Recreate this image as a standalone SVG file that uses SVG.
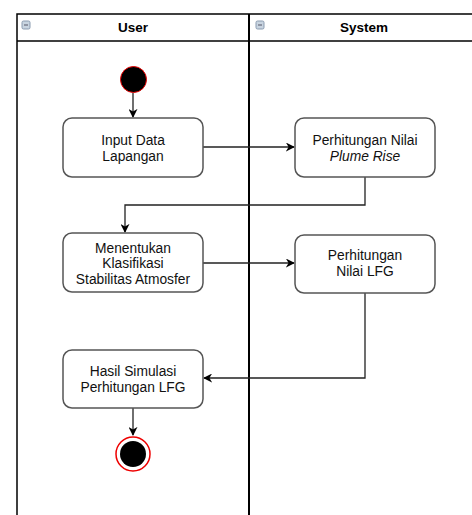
<svg xmlns="http://www.w3.org/2000/svg" width="472" height="515" viewBox="0 0 472 515">
<defs>
<style>
.lane{fill:none;stroke:#000;stroke-width:1.5}
.hdr{font-family:"Liberation Sans",Arial,sans-serif;font-weight:bold;font-size:13.5px;fill:#000;text-anchor:middle}
.box{fill:#fff;stroke:#555;stroke-width:1.5}
.lbl{font-family:"Liberation Sans",Arial,sans-serif;font-size:13.8px;fill:#111;text-anchor:middle}
.conn{fill:none;stroke:#222;stroke-width:1.3}
.icon{fill:#c8d4e0;stroke:#8a9bb0;stroke-width:1}
</style>
<marker id="arr" viewBox="0 0 10 10" refX="9" refY="5" markerWidth="9" markerHeight="9" markerUnits="userSpaceOnUse" orient="auto">
<path d="M0,0 L10,5 L0,10 L3,5 Z" fill="#000"/>
</marker>
</defs>
<g id="swimlanes">
<rect class="lane" x="17" y="14" width="470" height="520"/>
<line class="lane" x1="17" y1="41" x2="472" y2="41"/>
<line class="lane" x1="249" y1="14" x2="249" y2="515" style="stroke-width:2"/>
<rect class="icon" x="22" y="21" width="8" height="8" rx="1.5"/>
<line x1="24" y1="25" x2="28" y2="25" stroke="#556" stroke-width="1"/>
<rect class="icon" x="256" y="21" width="8" height="8" rx="1.5"/>
<line x1="258" y1="25" x2="262" y2="25" stroke="#556" stroke-width="1"/>
<text class="hdr" x="133" y="32">User</text>
<text class="hdr" x="364" y="32">System</text>
</g>
<g id="connectors">
<line class="conn" x1="133" y1="93" x2="133" y2="117" marker-end="url(#arr)"/>
<line class="conn" x1="203" y1="147" x2="294" y2="147" marker-end="url(#arr)"/>
<polyline class="conn" points="365,177 365,205 125,205 125,232" marker-end="url(#arr)"/>
<line class="conn" x1="203" y1="263" x2="294" y2="263" marker-end="url(#arr)"/>
<polyline class="conn" points="365,293 365,378 204,378" marker-end="url(#arr)"/>
<line class="conn" x1="133" y1="408" x2="133" y2="435" marker-end="url(#arr)"/>
</g>
<g id="start">
<circle cx="133.5" cy="79.5" r="13" fill="#000" stroke="#e00" stroke-width="1"/>
</g>
<g id="input-data">
<rect class="box" x="63" y="118" width="140" height="59" rx="9"/>
<text class="lbl" x="133" y="145">Input Data</text>
<text class="lbl" x="133" y="161">Lapangan</text>
</g>
<g id="plume-rise">
<rect class="box" x="295" y="118" width="140" height="59" rx="9"/>
<text class="lbl" x="365" y="145">Perhitungan Nilai</text>
<text class="lbl" x="365" y="161" font-style="italic">Plume Rise</text>
</g>
<g id="stabilitas">
<rect class="box" x="63" y="233" width="140" height="59" rx="9"/>
<text class="lbl" x="133" y="253">Menentukan</text>
<text class="lbl" x="133" y="268">Klasifikasi</text>
<text class="lbl" x="133" y="284">Stabilitas Atmosfer</text>
</g>
<g id="nilai-lfg">
<rect class="box" x="295" y="235" width="140" height="58" rx="9"/>
<text class="lbl" x="365" y="260">Perhitungan</text>
<text class="lbl" x="365" y="276">Nilai LFG</text>
</g>
<g id="hasil">
<rect class="box" x="63" y="350" width="140" height="58" rx="9"/>
<text class="lbl" x="133" y="376">Hasil Simulasi</text>
<text class="lbl" x="133" y="392">Perhitungan LFG</text>
</g>
<g id="end">
<circle cx="133" cy="454" r="17" fill="#fff" stroke="#e00" stroke-width="1.5"/>
<circle cx="133" cy="454" r="13" fill="#000"/>
</g>
</svg>
